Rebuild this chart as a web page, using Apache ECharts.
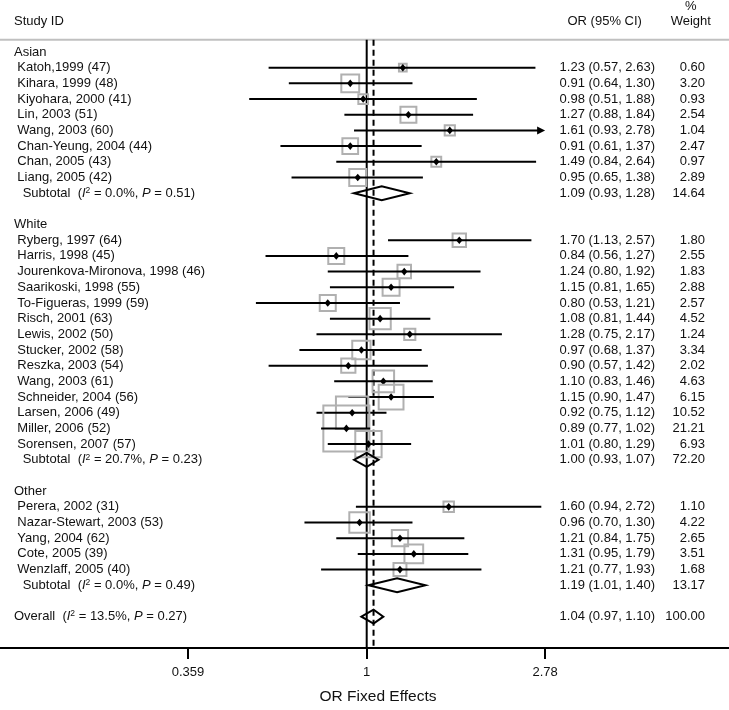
<!DOCTYPE html>
<html><head><meta charset="utf-8">
<script src="https://cdn.jsdelivr.net/npm/echarts@6/dist/echarts.min.js"></script>
<style>html,body{margin:0;padding:0;background:#fff}#c{width:729px;height:710px}</style>
</head><body><div id="c"></div>
<script>
// ---------------- data ----------------
const groupNames = ['Asian', 'White', 'Other'];

const asianNames = ['Katoh,1999 (47)', 'Kihara, 1999 (48)', 'Kiyohara, 2000 (41)', 'Lin, 2003 (51)', 'Wang, 2003 (60)', 'Chan-Yeung, 2004 (44)', 'Chan, 2005 (43)', 'Liang, 2005 (42)'];
const asianOR = [1.23, 0.91, 0.98, 1.27, 1.61, 0.91, 1.49, 0.95];
const asianLow = [0.57, 0.64, 0.51, 0.88, 0.93, 0.61, 0.84, 0.65];
const asianHigh = [2.63, 1.30, 1.88, 1.84, 2.78, 1.37, 2.64, 1.38];
const asianWeight = [0.60, 3.20, 0.93, 2.54, 1.04, 2.47, 0.97, 2.89];

const whiteNames = ['Ryberg, 1997 (64)', 'Harris, 1998 (45)', 'Jourenkova-Mironova, 1998 (46)', 'Saarikoski, 1998 (55)', 'To-Figueras, 1999 (59)', 'Risch, 2001 (63)', 'Lewis, 2002 (50)', 'Stucker, 2002 (58)', 'Reszka, 2003 (54)', 'Wang, 2003 (61)', 'Schneider, 2004 (56)', 'Larsen, 2006 (49)', 'Miller, 2006 (52)', 'Sorensen, 2007 (57)'];
const whiteOR = [1.70, 0.84, 1.24, 1.15, 0.80, 1.08, 1.28, 0.97, 0.90, 1.10, 1.15, 0.92, 0.89, 1.01];
const whiteLow = [1.13, 0.56, 0.80, 0.81, 0.53, 0.81, 0.75, 0.68, 0.57, 0.83, 0.90, 0.75, 0.77, 0.80];
const whiteHigh = [2.57, 1.27, 1.92, 1.65, 1.21, 1.44, 2.17, 1.37, 1.42, 1.46, 1.47, 1.12, 1.02, 1.29];
const whiteWeight = [1.80, 2.55, 1.83, 2.88, 2.57, 4.52, 1.24, 3.34, 2.02, 4.63, 6.15, 10.52, 21.21, 6.93];

const otherNames = ['Perera, 2002 (31)', 'Nazar-Stewart, 2003 (53)', 'Yang, 2004 (62)', 'Cote, 2005 (39)', 'Wenzlaff, 2005 (40)'];
const otherOR = [1.60, 0.96, 1.21, 1.31, 1.21];
const otherLow = [0.94, 0.70, 0.84, 0.95, 0.77];
const otherHigh = [2.72, 1.30, 1.75, 1.79, 1.93];
const otherWeight = [1.10, 4.22, 2.65, 3.51, 1.68];

const subtotalOR = [1.09, 1.00, 1.19];
const subtotalLow = [0.93, 0.93, 1.01];
const subtotalHigh = [1.28, 1.07, 1.40];
const subtotalWeight = [14.64, 72.20, 13.17];
const subtotalI2 = ['0.0%', '20.7%', '0.0%'];
const subtotalP = ['0.51', '0.23', '0.49'];

const overallOR = 1.04, overallLow = 0.97, overallHigh = 1.10, overallWeight = 100.00;
const overallI2 = '13.5%', overallP = '0.27';

const tickValues = [0.359, 1, 2.78];
const tickLabels = ['0.359', '1', '2.78'];

// ---------------- build rows ----------------
const groupsData = [
  [asianNames, asianOR, asianLow, asianHigh, asianWeight],
  [whiteNames, whiteOR, whiteLow, whiteHigh, whiteWeight],
  [otherNames, otherOR, otherLow, otherHigh, otherWeight]
];
const rows = [];
let r = 0;
groupsData.forEach((g, gi) => {
  rows.push({ kind: 'head', row: r++, label: groupNames[gi] });
  g[0].forEach((nm, i) => {
    rows.push({ kind: 'study', row: r++, label: nm, or: g[1][i], lo: g[2][i], hi: g[3][i], w: g[4][i] });
  });
  rows.push({ kind: 'sub', row: r++, i2: subtotalI2[gi], p: subtotalP[gi], or: subtotalOR[gi], lo: subtotalLow[gi], hi: subtotalHigh[gi], w: subtotalWeight[gi] });
  r++; // blank
});
rows.push({ kind: 'overall', row: r, i2: overallI2, p: overallP, or: overallOR, lo: overallLow, hi: overallHigh, w: overallWeight });

// ---------------- layout ----------------
const W = 729;
const X_ONE = 366.7, PX_PER_LN = 174.5;
const xMin = -X_ONE / PX_PER_LN, xMax = (W - X_ONE) / PX_PER_LN;
const plotMaxOR = tickValues[tickValues.length - 1];
const HEADER_ROW = -0.78, Y_MIN = -2, Y_MAX = 38;
const FF = '"Liberation Sans", Arial, Helvetica, sans-serif';
const FONT = '13px ' + FF;
const TXT = '#111';

function f2(v) { return v.toFixed(2); }
function ciText(d) { return f2(d.or) + ' (' + f2(d.lo) + ', ' + f2(d.hi) + ')'; }

function richStat(prefix, i2, p) {
  return '{n|' + prefix + '(}{i|I}{s|2}{n| = ' + i2 + ', }{i|P}{n| = ' + p + ')}';
}
const richStyles = {
  n: { fontSize: 13, fontFamily: FF, fill: TXT, lineHeight: 16 },
  i: { fontSize: 13, fontFamily: FF, fontStyle: 'italic', fill: TXT, lineHeight: 16 },
  s: { fontSize: 8.5, fontFamily: FF, fill: TXT, lineHeight: 16, verticalAlign: 'top', padding: [1, 0, 0, 0] }
};

function renderRow(params, api) {
  const d = rows[params.dataIndex];
  const y = api.coord([0, d.row])[1];
  const X = v => api.coord([Math.log(v), d.row])[0];
  const ch = [];
  if (d.kind === 'head') {
    ch.push({ type: 'text', style: { text: d.label, x: 14, y: y, font: FONT, fill: TXT, align: 'left', verticalAlign: 'middle' } });
    return { type: 'group', children: ch };
  }
  if (d.kind === 'study') {
    const side = 10 * Math.sqrt(d.w);
    const cx = X(d.or);
    ch.push({ type: 'rect', shape: { x: cx - side / 2, y: y - side / 2, width: side, height: side }, style: { fill: null, stroke: '#b0b0b0', lineWidth: 2 } });
    if (d.hi >= plotMaxOR) {
      const xt = X(plotMaxOR);
      ch.push({ type: 'line', shape: { x1: X(d.lo), y1: y, x2: xt - 6, y2: y }, style: { stroke: '#000', lineWidth: 2 } });
      ch.push({ type: 'polygon', shape: { points: [[xt, y], [xt - 8, y - 4], [xt - 8, y + 4]] }, style: { fill: '#000' } });
    } else {
      ch.push({ type: 'line', shape: { x1: X(d.lo), y1: y, x2: X(d.hi), y2: y }, style: { stroke: '#000', lineWidth: 2 } });
    }
    ch.push({ type: 'polygon', shape: { points: [[cx - 3.2, y], [cx, y - 3.8], [cx + 3.2, y], [cx, y + 3.8]] }, style: { fill: '#000' } });
    ch.push({ type: 'text', style: { text: d.label, x: 17.3, y: y, font: FONT, fill: TXT, align: 'left', verticalAlign: 'middle' } });
  } else {
    ch.push({ type: 'polygon', shape: { points: [[X(d.lo), y], [X(d.or), y - 7], [X(d.hi), y], [X(d.or), y + 7]] }, style: { fill: null, stroke: '#000', lineWidth: 2, lineJoin: 'miter' } });
    const lx = d.kind === 'sub' ? 22.7 : 14;
    const prefix = d.kind === 'sub' ? 'Subtotal  ' : 'Overall  ';
    ch.push({ type: 'text', style: { text: richStat(prefix, d.i2, d.p), x: lx, y: y, align: 'left', verticalAlign: 'middle', rich: richStyles, fill: TXT, font: FONT } });
  }
  ch.push({ type: 'text', style: { text: ciText(d), x: 655, y: y, font: FONT, fill: TXT, align: 'right', verticalAlign: 'middle' } });
  ch.push({ type: 'text', style: { text: f2(d.w), x: 705, y: y, font: FONT, fill: TXT, align: 'right', verticalAlign: 'middle' } });
  return { type: 'group', children: ch };
}

function renderRefs(params, api) {
  const top = api.coord([0, HEADER_ROW])[1];
  const bot = api.coord([0, Y_MAX])[1];
  const x1 = api.coord([0, 0])[0];
  const xd = api.coord([Math.log(overallOR), 0])[0];
  return {
    type: 'group', children: [
      { type: 'line', shape: { x1: 0, y1: top, x2: W, y2: top }, style: { stroke: '#c0c0c0', lineWidth: 2 } },
      { type: 'line', shape: { x1: x1, y1: top, x2: x1, y2: bot }, style: { stroke: '#000', lineWidth: 2 } },
      { type: 'line', shape: { x1: xd, y1: top, x2: xd, y2: bot }, style: { stroke: '#000', lineWidth: 2, lineDash: [6, 4] } }
    ]
  };
}

const chart = echarts.init(document.getElementById('c'), null, { renderer: 'canvas' });
const gridTop = 52.3 + Y_MIN * 15.833;
const gridBottom = 710 - (52.3 + Y_MAX * 15.833);
chart.setOption({
  animation: false,
  backgroundColor: '#fff',
  grid: { left: 0, right: 0, top: gridTop, bottom: gridBottom, containLabel: false },
  xAxis: {
    type: 'value', min: xMin, max: xMax, position: 'bottom',
    axisLine: { show: true, onZero: false, lineStyle: { color: '#000', width: 2 } },
    axisTick: { show: true, inside: false, length: 11, lineStyle: { color: '#000', width: 2 }, customValues: tickValues.map(Math.log) },
    axisLabel: {
      show: true, margin: 18, color: TXT, fontSize: 13, fontFamily: FF,
      customValues: tickValues.map(Math.log),
      formatter: v => { const k = tickValues.findIndex(t => Math.abs(Math.log(t) - v) < 1e-6); return k >= 0 ? tickLabels[k] : ''; }
    },
    splitLine: { show: false },
    name: 'OR Fixed Effects', nameLocation: 'middle', nameGap: 41,
    nameTextStyle: { fontSize: 15.5, fontFamily: FF, color: TXT, padding: [0, 0, 0, 27] }
  },
  yAxis: { type: 'value', inverse: true, min: Y_MIN, max: Y_MAX, show: false },
  graphic: [
    { type: 'text', style: { text: 'Study ID', x: 14, y: 21.7, font: FONT, fill: TXT, align: 'left', verticalAlign: 'middle' } },
    { type: 'text', style: { text: 'OR (95% CI)', x: 604.7, y: 21.7, font: FONT, fill: TXT, align: 'center', verticalAlign: 'middle' } },
    { type: 'text', style: { text: '%', x: 690.8, y: 6.7, font: FONT, fill: TXT, align: 'center', verticalAlign: 'middle' } },
    { type: 'text', style: { text: 'Weight', x: 690.8, y: 21.7, font: FONT, fill: TXT, align: 'center', verticalAlign: 'middle' } }
  ],
  series: [
    { type: 'custom', name: 'refs', clip: false, silent: true, data: [[0, 0]], renderItem: renderRefs, z: 1 },
    { type: 'custom', name: 'rows', clip: false, silent: true, data: rows.map(d => [d.or ? Math.log(d.or) : 0, d.row]), renderItem: renderRow, z: 2 }
  ]
});
</script>
</body></html>
